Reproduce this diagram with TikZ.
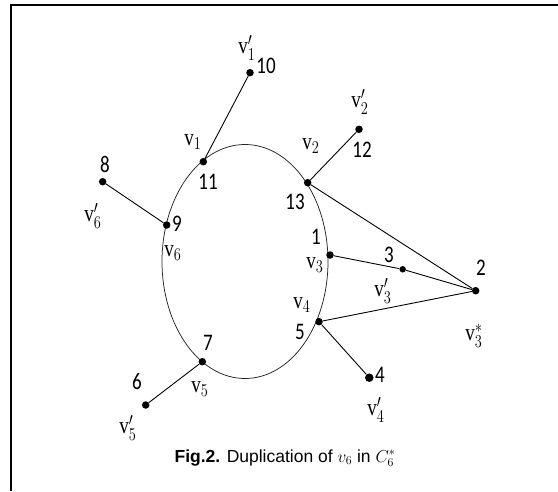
\documentclass[tikz,border=0pt]{standalone}
\usepackage{amsmath}
\usepackage{fontspec}
\setmainfont{Liberation Serif}
\setsansfont{Liberation Sans}
\newfontfamily\numfont{Carlito}
\usetikzlibrary{positioning}
\newcommand{\tallt}[1]{\scalebox{1}[1.25]{#1}}

\begin{document}
\begin{tikzpicture}[x=1pt, y=-1pt,
	vtx/.style={circle, fill=black, inner sep=0pt, minimum size=7.5pt},
	edge/.style={draw=black, line width=0.9pt},
	vlab/.style={font=\fontsize{19}{19}\selectfont, inner sep=0pt},
	num/.style={font=\numfont\fontsize{19}{19}\selectfont, inner sep=0pt},
	caption/.style={font=\sffamily\fontsize{17.5}{17.5}\selectfont, inner sep=0pt}
]
\useasboundingbox (0,0) rectangle (558,491);

% Frame
\draw[line width=1.8pt] (11,491) -- (11,5) -- (558,5);

% Cycle
\draw[line width=0.75pt, black!85] (245,261.5) ellipse [x radius=83pt, y radius=117pt];

% Vertices
\node[vtx] (v1)  at (203.3,161.7) {};
\node[vtx] (v2)  at (307.7,182.7) {};
\node[vtx] (v3)  at (330,255) {};
\node[vtx] (v4)  at (319,321.7) {};
\node[vtx] (v5)  at (202.3,361.7) {};
\node[vtx] (v6)  at (166.7,225) {};
\node[vtx] (v1p) at (250,72.7) {};
\node[vtx] (v2p) at (359,129.3) {};
\node[vtx, minimum size=6.5pt] (v3p) at (402.7,269.3) {};
\node[vtx, minimum size=8.5pt] (v4p) at (369.3,377.7) {};
\node[vtx] (v5p) at (145.7,405) {};
\node[vtx] (v6p) at (102.7,181.7) {};
\node[vtx] (v3s) at (475.7,290.7) {};

% Edges
\draw[edge] (v1) -- (v1p);
\draw[edge] (v2) -- (v2p);
\draw[edge] (v6) -- (v6p);
\draw[edge] (v5) -- (v5p);
\draw[edge] (v4) -- (v4p);
\draw[edge] (v3) -- (v3p);
\draw[edge] (v3p) -- (v3s);
\draw[edge] (v2) -- (v3s);
\draw[edge] (v4) -- (v3s);

% Vertex names
\node[vlab] (l1p) at (247,48) {\tallt{$\mathrm{v}'_1$}};
\node[vlab] (l1)  at (193,142) {\tallt{$\mathrm{v}_1$}};
\node[vlab] (l2p) at (360,102) {\tallt{$\mathrm{v}'_2$}};
\node[vlab] (l2)  at (311,146) {\tallt{$\mathrm{v}_2$}};
\node[vlab] (l3)  at (315,265) {\tallt{$\mathrm{v}_3$}};
\node[vlab] (l3p) at (383,291) {\tallt{$\mathrm{v}'_3$}};
\node[vlab] (l3s) at (474,336) {\tallt{$\mathrm{v}^*_3$}};
\node[vlab] (l4)  at (302,305) {\tallt{$\mathrm{v}_4$}};
\node[vlab] (l4p) at (376,410) {\tallt{$\mathrm{v}'_4$}};
\node[vlab] (l5)  at (200,389) {\tallt{$\mathrm{v}_5$}};
\node[vlab] (l5p) at (128,428) {\tallt{$\mathrm{v}'_5$}};
\node[vlab] (l6)  at (173,253) {\tallt{$\mathrm{v}_6$}};
\node[vlab] (l6p) at (93,216) {\tallt{$\mathrm{v}'_6$}};

% Vertex numbers
\node[num] (n1)  at (316,237) {\tallt{1}};
\node[num] (n2)  at (481,268) {\tallt{2}};
\node[num] (n3)  at (389,255) {\tallt{3}};
\node[num] (n4)  at (380,375) {\tallt{4}};
\node[num] (n5)  at (300,332) {\tallt{5}};
\node[num] (n6)  at (137,382) {\tallt{6}};
\node[num] (n7)  at (208,343) {\tallt{7}};
\node[num] (n8)  at (105,164) {\tallt{8}};
\node[num] (n9)  at (177,224) {\tallt{9}};
\node[num] (n10) at (266,66) {\tallt{10}};
\node[num] (n11) at (208,182) {\tallt{11}};
\node[num] (n12) at (362,150) {\tallt{12}};
\node[num] (n13) at (295,202) {\tallt{13}};

% Caption
\node[caption] (cap) at (285,458) {\textbf{Fig.2.} Duplication of $v_6$ in $C_6^*$};

\end{tikzpicture}
\end{document}
